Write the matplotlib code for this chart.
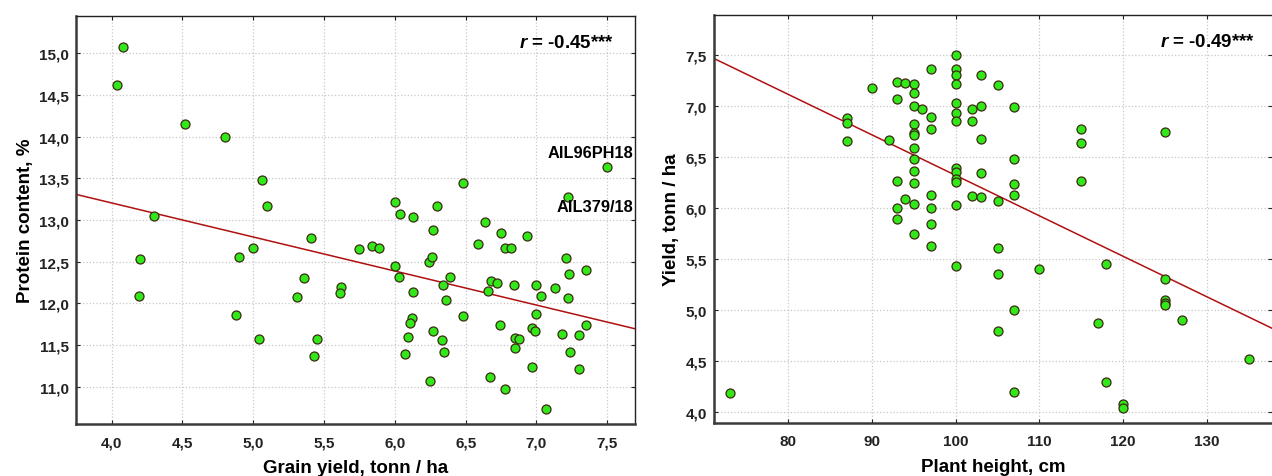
import numpy as np
import matplotlib
matplotlib.use('Agg')
from matplotlib import pyplot as plt

plt.rcParams['font.family'] = ['Liberation Sans', 'DejaVu Sans']
plt.rcParams['font.weight'] = 'bold'
plt.rcParams['mathtext.fontset'] = 'custom'
plt.rcParams['mathtext.rm'] = 'Liberation Sans:bold'
plt.rcParams['mathtext.it'] = 'Liberation Sans:italic:bold'

# left panel: grain yield vs protein content
grain_yield = [4.08, 4.04, 4.52, 4.80, 5.06, 5.10, 4.30, 5.41, 4.20, 4.19,
               4.90, 5.00, 4.88, 5.04, 5.36, 5.31, 5.45, 5.43, 7.50, 7.22,
               6.48, 6.00, 6.04, 6.13, 6.30, 6.27, 6.64, 6.75, 6.93, 6.59,
               6.78, 6.82, 5.75, 5.84, 5.89, 6.24, 6.26, 6.00, 6.03, 6.39,
               6.34, 6.13, 6.36, 6.68, 6.72, 6.66, 6.84, 7.21, 7.23, 7.35,
               7.00, 7.13, 7.03, 7.22, 5.62, 5.61, 6.48, 7.00, 6.74, 6.97,
               6.99, 7.35, 7.18, 7.30, 6.12, 6.11, 6.09, 6.27, 6.33, 6.35,
               6.07, 6.85, 6.88, 6.85, 7.24, 6.67, 6.97, 7.30, 6.25, 6.78,
               7.07]
protein = [15.08, 14.62, 14.15, 14.00, 13.48, 13.17, 13.05, 12.78, 12.53, 12.09,
           12.56, 12.67, 11.86, 11.57, 12.31, 12.08, 11.58, 11.37, 13.64, 13.28,
           13.45, 13.22, 13.07, 13.04, 13.17, 12.88, 12.98, 12.84, 12.81, 12.71,
           12.66, 12.66, 12.65, 12.69, 12.66, 12.50, 12.56, 12.45, 12.32, 12.32,
           12.22, 12.14, 12.04, 12.27, 12.25, 12.15, 12.22, 12.55, 12.35, 12.40,
           12.22, 12.19, 12.09, 12.06, 12.20, 12.12, 11.85, 11.87, 11.74, 11.71,
           11.67, 11.74, 11.64, 11.62, 11.83, 11.77, 11.60, 11.67, 11.56, 11.42,
           11.40, 11.59, 11.58, 11.47, 11.42, 11.12, 11.24, 11.21, 11.07, 10.98,
           10.73]
left_labels = ['AIL96PH18', 'AIL379/18']
left_label_pts = [(7.50, 13.64), (7.22, 13.28)]
left_r_rest = ' = -0.45***'

# right panel: plant height vs yield
height = [87, 87, 87, 90, 92, 93, 94, 93, 95, 95,
          95, 96, 97, 97, 97, 95, 95, 95, 95, 95,
          95, 95, 93, 94, 93, 95, 93, 97, 97, 97,
          95, 100, 100, 100, 100, 100, 100, 100, 100, 100,
          100, 100, 100, 103, 105, 102, 103, 102, 107, 103,
          115, 115, 125, 107, 103, 107, 107, 102, 103, 105,
          115, 73, 97, 100, 105, 105, 110, 118, 125, 125,
          125, 125, 107, 117, 127, 105, 135, 118, 107, 120,
          120]
plant_yield = [6.88, 6.83, 6.66, 7.18, 6.67, 7.24, 7.23, 7.07, 7.22, 7.13,
               7.00, 6.97, 7.36, 6.89, 6.78, 6.82, 6.74, 6.72, 6.59, 6.48,
               6.36, 6.25, 6.27, 6.09, 6.00, 6.04, 5.89, 6.13, 6.00, 5.84,
               5.75, 7.50, 7.36, 7.30, 7.22, 7.03, 6.93, 6.85, 6.39, 6.35,
               6.29, 6.26, 6.03, 7.30, 7.21, 6.97, 7.00, 6.85, 6.99, 6.68,
               6.78, 6.64, 6.75, 6.48, 6.34, 6.24, 6.13, 6.12, 6.11, 6.07,
               6.27, 4.19, 5.63, 5.43, 5.61, 5.36, 5.40, 5.45, 5.31, 5.10,
               5.07, 5.05, 5.00, 4.88, 4.90, 4.80, 4.52, 4.30, 4.20, 4.08,
               4.04]
right_r_rest = ' = -0.49***'

left_xticks = [4.0, 4.5, 5.0, 5.5, 6.0, 6.5, 7.0, 7.5]
left_yticks = [11.0, 11.5, 12.0, 12.5, 13.0, 13.5, 14.0, 14.5, 15.0]
right_xticks = [80, 90, 100, 110, 120, 130]
right_yticks = [4.0, 4.5, 5.0, 5.5, 6.0, 6.5, 7.0, 7.5]


def comma(v, digits=1):
    return f'{v:.{digits}f}'.replace('.', ',')


def style_axes(ax):
    ax.grid(True, color='#c8c8c8', linestyle=':', linewidth=0.9)
    ax.set_axisbelow(True)
    for side in ['left', 'bottom']:
        ax.spines[side].set_color('#3a3a3a')
        ax.spines[side].set_linewidth(1.8)
    for side in ['top', 'right']:
        ax.spines[side].set_color('#222222')
        ax.spines[side].set_linewidth(1.0)
    ax.tick_params(direction='in', length=3, width=0.8, top=True, right=True,
                   labelsize=11, colors='#222222', labelcolor='#222222')
    ax.tick_params(axis='x', pad=8)
    ax.tick_params(axis='y', pad=5)


def scatter_fit(ax, x, y, xlim):
    ax.scatter(x, y, s=42, color='#33e81a', edgecolor='#3a2a10', linewidth=0.9, zorder=3)
    k, b = np.polyfit(x, y, 1)
    xs = np.array(xlim)
    ax.plot(xs, k * xs + b, color='#b01010', linewidth=1.1, zorder=2)


fig = plt.figure(figsize=(12.72, 4.77), dpi=100)

ax1 = fig.add_axes([0.0597, 0.109, 0.4395, 0.8554])
style_axes(ax1)
xlim1 = (3.748, 7.696)
scatter_fit(ax1, grain_yield, protein, xlim1)
ax1.set_xlim(xlim1)
ax1.set_ylim(10.555, 15.447)
ax1.set_xticks(left_xticks)
ax1.set_xticklabels([comma(v) for v in left_xticks])
ax1.set_yticks(left_yticks)
ax1.set_yticklabels([comma(v) for v in left_yticks])
ax1.set_xlabel('Grain yield, tonn / ha', fontsize=13.5, fontweight='bold', labelpad=7)
ax1.set_ylabel('Protein content, %', fontsize=13.5, fontweight='bold', labelpad=4)
ax1.text(0.962, 0.935, r'$\mathit{r}$' + left_r_rest, transform=ax1.transAxes,
         ha='right', va='center', fontsize=13.5, fontweight='bold')
offsets = [(19, 10), (47, -7)]
for name, pt, off in zip(left_labels, left_label_pts, offsets):
    ax1.annotate(name, pt, xytext=off, textcoords='offset points',
                 ha='right', va='center', fontsize=11.8, fontweight='bold')

ax2 = fig.add_axes([0.5613, 0.1105, 0.4387, 0.856])
style_axes(ax2)
ax2.spines['right'].set_visible(False)
xlim2 = (71.12, 137.8)
scatter_fit(ax2, height, plant_yield, xlim2)
ax2.set_xlim(xlim2)
ax2.set_ylim(3.893, 7.892)
ax2.set_xticks(right_xticks)
ax2.set_xticklabels([str(v) for v in right_xticks])
ax2.set_yticks(right_yticks)
ax2.set_yticklabels([comma(v) for v in right_yticks])
ax2.set_xlabel('Plant height, cm', fontsize=13.5, fontweight='bold', labelpad=7)
ax2.set_ylabel('Yield, tonn / ha', fontsize=13.5, fontweight='bold', labelpad=4)
ax2.text(0.97, 0.935, r'$\mathit{r}$' + right_r_rest, transform=ax2.transAxes,
         ha='right', va='center', fontsize=13.5, fontweight='bold')

fig.savefig('out.png', dpi=100)
